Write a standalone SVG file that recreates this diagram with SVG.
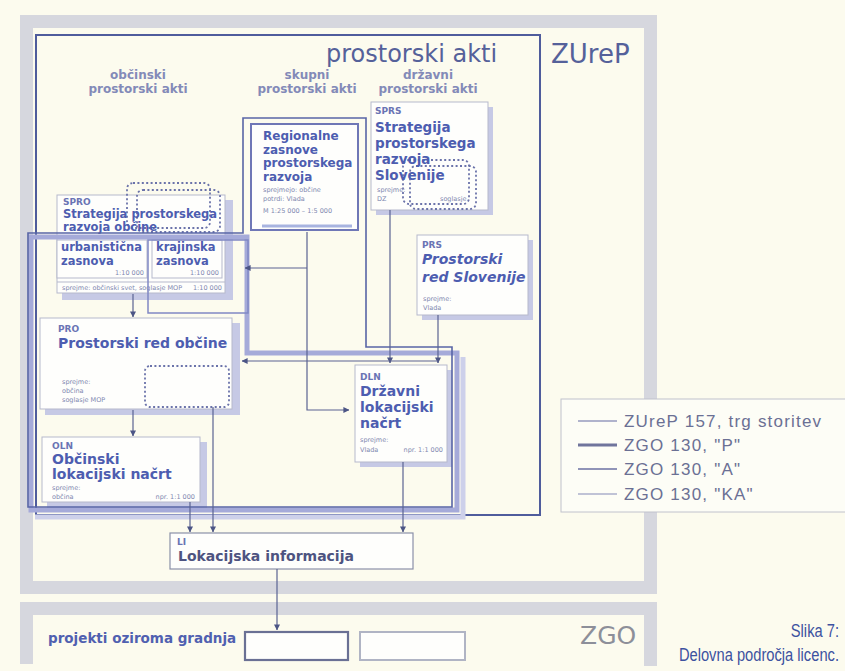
<svg xmlns="http://www.w3.org/2000/svg" width="845" height="671" viewBox="0 0 845 671">
<style>
  .t{font-family:"DejaVu Sans","Liberation Sans",sans-serif}
  .hd{font-size:12px;font-weight:bold;fill:#838ab8;text-anchor:middle}
  .tt{font-weight:bold;fill:#4d5db0}
  .lb{font-size:9px;font-weight:bold;fill:#6a74b4}
  .sm{font-size:6.5px;fill:#8088b0}
  .box{fill:#fefefc;stroke:#b6b9cc;stroke-width:1}
  .sh{fill:#c6c9e5}
  .dot{fill:none;stroke:#6b73aa;stroke-width:1.8;stroke-dasharray:2 2.4}
  .cn{fill:none;stroke:#5a6392;stroke-width:1.2}
  .gray{fill:none;stroke:#d6d7de;stroke-width:13}
  .lg{font-family:"Liberation Sans",Arial,sans-serif;font-size:17px;fill:#6b7094;letter-spacing:1.2px}
</style>
<defs>
  <marker id="ah" viewBox="0 0 8 8" refX="7.5" refY="4" markerWidth="6" markerHeight="6" orient="auto" markerUnits="userSpaceOnUse">
    <path d="M0,0 L8,4 L0,8 z" fill="#4c5585"/>
  </marker>
</defs>

<!-- page -->
<rect x="0" y="0" width="845" height="671" fill="#fcfbee"/>

<!-- outer law frames -->
<g id="zurep-frame">
  <rect class="gray" x="26.5" y="21.5" width="624" height="566"/>
  <text class="t" x="551" y="63" font-size="26" fill="#55619a">ZUreP</text>
</g>
<g id="zgo-frame">
  <path class="gray" d="M26.5,664 V608.5 H650.5 V666"/>
  <text class="t" x="580" y="644" font-size="25" fill="#8d8f99">ZGO</text>
  <text class="t" x="48" y="643" font-size="13.5" font-weight="bold" fill="#5060b0">projekti oziroma gradnja</text>
</g>

<!-- spatial acts frame -->
<g id="prostorski-akti">
  <rect x="36" y="35" width="504" height="480" fill="none" stroke="#4f5c9c" stroke-width="2"/>
  <text class="t" x="326" y="62" font-size="24" fill="#55619a">prostorski akti</text>
  <text class="t hd" x="138" y="79">občinski</text>
  <text class="t hd" x="138" y="93">prostorski akti</text>
  <text class="t hd" x="307" y="79">skupni</text>
  <text class="t hd" x="307" y="93">prostorski akti</text>
  <text class="t hd" x="428" y="79">državni</text>
  <text class="t hd" x="428" y="93">prostorski akti</text>
</g>

<!-- regional plan -->
<g id="regionalne-zasnove">
  <rect x="251" y="124" width="107" height="106" fill="#fefefc" stroke="#6f77b6" stroke-width="2"/>
  <line x1="262" y1="226" x2="352" y2="226" stroke="#a8b4e0" stroke-width="3"/>
  <text class="t tt" font-size="12" x="263" y="140">Regionalne</text>
  <text class="t tt" font-size="12" x="263" y="153.5">zasnove</text>
  <text class="t tt" font-size="12" x="263" y="167">prostorskega</text>
  <text class="t tt" font-size="12" x="263" y="180.5">razvoja</text>
  <text class="t sm" x="263" y="192">sprejmejo: občine</text>
  <text class="t sm" x="263" y="201">potrdi: Vlada</text>
  <text class="t sm" x="263" y="213">M 1:25 000 – 1:5 000</text>
</g>

<!-- national strategy -->
<g id="sprs">
  <rect class="sh" x="376" y="107" width="117" height="108"/>
  <rect class="box" x="371" y="102" width="117" height="108"/>
  <rect class="dot" x="403" y="160" width="66" height="44" rx="6"/>
  <rect class="dot" x="410" y="166" width="66" height="43" rx="6"/>
  <text class="t lb" x="375" y="114">SPRS</text>
  <text class="t tt" font-size="13.5" x="375" y="132">Strategija</text>
  <text class="t tt" font-size="13.5" x="375" y="148">prostorskega</text>
  <text class="t tt" font-size="13.5" x="375" y="164">razvoja</text>
  <text class="t tt" font-size="13.5" x="375" y="180">Slovenije</text>
  <text class="t sm" x="377" y="192">sprejme:</text>
  <text class="t sm" x="377" y="201">DZ</text>
  <text class="t sm" x="440" y="201">soglasje</text>
</g>

<!-- national spatial order -->
<g id="prs">
  <rect class="sh" x="422" y="240" width="111" height="80"/>
  <rect class="box" x="417" y="235" width="111" height="80"/>
  <text class="t lb" x="422" y="248">PRS</text>
  <text class="t tt" font-size="14" font-style="italic" x="422" y="264">Prostorski</text>
  <text class="t tt" font-size="14" font-style="italic" x="422" y="282">red Slovenije</text>
  <text class="t sm" x="423" y="301">sprejme:</text>
  <text class="t sm" x="423" y="310">Vlada</text>
</g>

<!-- municipal strategy -->
<g id="spro">
  <rect class="sh" x="62" y="200" width="171" height="100"/>
  <rect class="box" x="57" y="195" width="168" height="98"/>
  <rect class="box" x="57" y="240" width="90" height="38" fill="none"/>
  <rect class="box" x="152" y="240" width="70" height="38" fill="none"/>
  <line x1="57" y1="282" x2="225" y2="282" stroke="#b6b9cc"/>
  <rect class="dot" x="127" y="183" width="83" height="45" rx="6"/>
  <rect class="dot" x="137" y="190" width="83" height="42" rx="6"/>
  <text class="t lb" x="63" y="205">SPRO</text>
  <text class="t tt" font-size="11.5" x="63" y="218">Strategija prostorskega</text>
  <text class="t tt" font-size="11.5" x="63" y="231">razvoja občine</text>
  <text class="t tt" font-size="11.5" x="61" y="251">urbanistična</text>
  <text class="t tt" font-size="11.5" x="61" y="265">zasnova</text>
  <text class="t tt" font-size="11.5" x="156" y="251">krajinska</text>
  <text class="t tt" font-size="11.5" x="156" y="265">zasnova</text>
  <text class="t sm" x="144" y="275" text-anchor="end">1:10 000</text>
  <text class="t sm" x="219" y="275" text-anchor="end">1:10 000</text>
  <text class="t sm" x="62" y="290">sprejme: občinski svet, soglasje MOP</text>
  <text class="t sm" x="222" y="290" text-anchor="end">1:10 000</text>
</g>

<!-- municipal spatial order -->
<g id="pro">
  <rect class="sh" x="45" y="323" width="195" height="92"/>
  <rect class="box" x="40" y="318" width="192" height="91"/>
  <rect class="dot" x="145" y="366" width="84" height="41" rx="5"/>
  <text class="t lb" x="58" y="332">PRO</text>
  <text class="t tt" font-size="14" x="58" y="348">Prostorski red občine</text>
  <text class="t sm" x="62" y="384">sprejme:</text>
  <text class="t sm" x="62" y="393">občina</text>
  <text class="t sm" x="62" y="402">soglasje MOP</text>
</g>

<!-- municipal detailed plan -->
<g id="oln">
  <rect class="sh" x="47" y="442" width="160" height="66"/>
  <rect class="box" x="42" y="437" width="158" height="65"/>
  <text class="t lb" x="52" y="449">OLN</text>
  <text class="t tt" font-size="14" x="52" y="464">Občinski</text>
  <text class="t tt" font-size="14" x="52" y="479">lokacijski načrt</text>
  <text class="t sm" x="52" y="490">sprejme:</text>
  <text class="t sm" x="52" y="499">občina</text>
  <text class="t sm" x="195" y="499" text-anchor="end">npr. 1:1 000</text>
</g>

<!-- national detailed plan -->
<g id="dln">
  <rect class="sh" x="360" y="370" width="92" height="97"/>
  <rect class="box" x="355" y="365" width="92" height="97"/>
  <text class="t lb" x="360" y="380">DLN</text>
  <text class="t tt" font-size="14" x="360" y="396">Državni</text>
  <text class="t tt" font-size="14" x="360" y="412">lokacijski</text>
  <text class="t tt" font-size="14" x="360" y="428">načrt</text>
  <text class="t sm" x="360" y="442">sprejme:</text>
  <text class="t sm" x="360" y="452">Vlada</text>
  <text class="t sm" x="443" y="452" text-anchor="end">npr. 1:1 000</text>
</g>

<!-- license scope frames -->
<g id="license-frames" fill="none">
  <path d="M463,357 V517 H35" stroke="#cdd0ea" stroke-width="5"/>
  <path d="M31,237 H247 V353 H457 V510 H31 Z" stroke="#a5aad9" stroke-width="5"/>
  <path d="M243,118 H366 V347 H452 V507 H28 V233 H243 Z" stroke="#5865a6" stroke-width="1.6"/>
  <rect x="148" y="240" width="100" height="73" stroke="#8088c4" stroke-width="1.5"/>
</g>

<!-- location information -->
<g id="li">
  <rect x="170" y="533" width="243" height="36" fill="#fefefc" stroke="#8a90a8" stroke-width="1.2"/>
  <text class="t lb" x="177" y="545">LI</text>
  <text class="t" font-size="14" font-weight="bold" fill="#4d5380" x="178" y="561">Lokacijska informacija</text>
</g>

<!-- construction projects -->
<g id="projekti">
  <rect x="245" y="632" width="103" height="28" fill="#fefefc" stroke="#6a7094" stroke-width="2.2"/>
  <rect x="360" y="632" width="105" height="28" fill="#fefefc" stroke="#b0b4c4" stroke-width="2"/>
</g>

<!-- connectors -->
<g id="connectors" class="cn">
  <path d="M307,232 V410 H349" marker-end="url(#ah)"/>
  <path d="M307,268 H245" marker-end="url(#ah)"/>
  <path d="M390,210 V363" marker-end="url(#ah)"/>
  <path d="M438,315 V363" marker-end="url(#ah)"/>
  <path d="M438,361 H242" marker-end="url(#ah)"/>
  <path d="M133,294 V317" marker-end="url(#ah)"/>
  <path d="M133,410 V436" marker-end="url(#ah)"/>
  <path d="M190,502 V532" marker-end="url(#ah)"/>
  <path d="M213,407 V532" marker-end="url(#ah)"/>
  <path d="M403,462 V532" marker-end="url(#ah)"/>
  <path d="M277,569 V630" marker-end="url(#ah)"/>
</g>

<!-- legend -->
<g id="legend">
  <rect x="561" y="399" width="290" height="113" fill="#fdfdf6" stroke="#c0c2cc"/>
  <line x1="578" y1="421" x2="617" y2="421" stroke="#b0b3cc" stroke-width="2.2"/>
  <line x1="578" y1="445" x2="617" y2="445" stroke="#70759c" stroke-width="3"/>
  <line x1="578" y1="469" x2="617" y2="469" stroke="#9094b8" stroke-width="2.2"/>
  <line x1="578" y1="494" x2="617" y2="494" stroke="#c0c3d6" stroke-width="2.2"/>
  <text class="lg" x="624" y="427">ZUreP 157, trg storitev</text>
  <text class="lg" x="624" y="451">ZGO 130, "P"</text>
  <text class="lg" x="624" y="475">ZGO 130, "A"</text>
  <text class="lg" x="624" y="500">ZGO 130, "KA"</text>
</g>

<!-- caption, horizontally condensed -->
<g id="caption" font-family="'Liberation Sans',Arial,sans-serif" font-size="17.5" fill="#3d52a0" text-anchor="end">
  <text transform="translate(839,637) scale(0.84,1)">Slika 7:</text>
  <text transform="translate(839,661) scale(0.84,1)">Delovna področja licenc.</text>
</g>
</svg>
